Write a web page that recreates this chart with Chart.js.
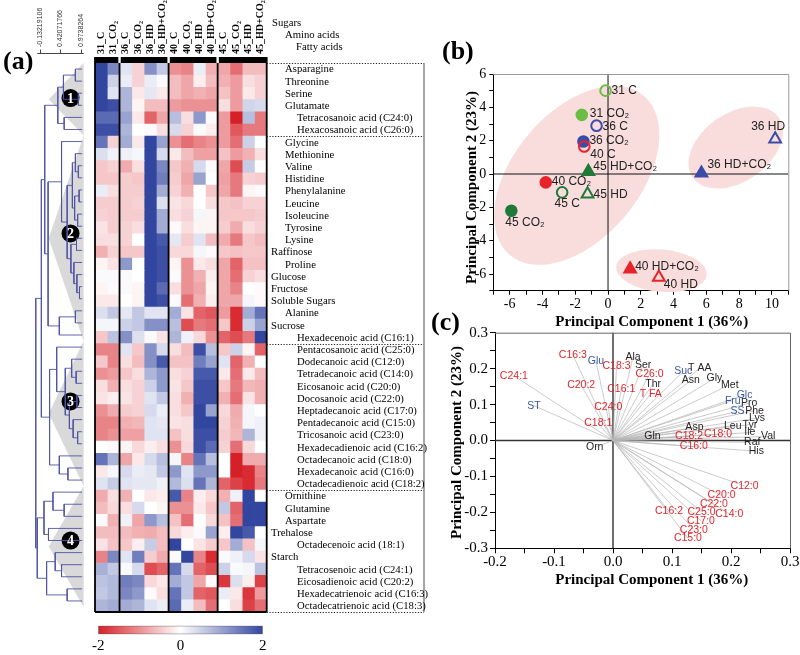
<!DOCTYPE html>
<html>
<head>
<meta charset="utf-8">
<title>Heatmap and PCA of metabolites</title>
<script src="https://cdn.jsdelivr.net/npm/chart.js@4.4.1/dist/chart.umd.min.js"></script>
<style>
  html, body { margin: 0; padding: 0; background: #fff; }
  #page { position: relative; width: 800px; height: 655px; overflow: hidden; }
  #page canvas { position: absolute; }
</style>
</head>
<body>
<div id="page">
  <canvas id="dendroChart" width="95" height="616" style="left:0;top:0;width:95px;height:616px"></canvas>
  <canvas id="heatChart" width="342" height="616" style="left:88px;top:0;width:342px;height:616px"></canvas>
  <canvas id="scaleChart" width="200" height="40" style="left:80px;top:615px;width:200px;height:40px"></canvas>
  <canvas id="scoreChart" width="360" height="305" style="left:440px;top:30px;width:360px;height:305px"></canvas>
  <canvas id="loadingChart" width="372" height="290" style="left:428px;top:305px;width:372px;height:290px"></canvas>
</div>
<script>
// ---- heatmap data ----
const columnNames = ['31_C', '31_CO₂', '36_C', '36_CO₂', '36_HD', '36_HD+CO₂', '40_C', '40_CO₂', '40_HD', '40_HD+CO₂', '45_C', '45_CO₂', '45_HD', '45_HD+CO₂'];
const columnGroupEdges = [0, 2, 6, 10, 14];

const cluster1Names = ['Asparagine', 'Threonine', 'Serine', 'Glutamate', 'Tetracosanoic acid (C24:0)', 'Hexacosanoic acid (C26:0)'];
const cluster1Kinds = ['A', 'A', 'A', 'A', 'F', 'F'];
const cluster1Values = [
  [2, 1.3, 0.3, -0.4, 1.2, 0.6, -1.0, -1.1, 0.2, -0.7, -0.8, -1.3, -0.6, -0.6],
  [2, 0.5, 0.2, -0.4, 0.2, 0.05, -0.6, -0.8, -0.15, -0.6, -0.7, -0.9, -0.3, -0.4],
  [2, 0.3, 0.8, -0.2, 0.25, -0.2, -0.6, -0.8, -0.7, -0.8, -0.55, -0.9, -0.2, -0.4],
  [2, 1.9, 0.8, -0.1, -0.6, -0.6, -0.9, -1.0, -1.0, -1.0, -0.3, -0.9, 0.45, 0.4],
  [1.6, 1.6, 1.0, -0.2, -1.4, -0.8, 0.7, -0.3, 1.1, -0.05, -0.9, -2.0, 0.7, -1.2],
  [1.9, 1.9, 0.8, 0, -0.05, -0.3, 0.4, -0.4, 0.05, -0.15, -0.9, -1.5, -1.2, -1.2]
];

const cluster2Names = ['Glycine', 'Methionine', 'Valine', 'Histidine', 'Phenylalanine', 'Leucine', 'Isoleucine', 'Tyrosine', 'Lysine', 'Raffinose', 'Proline', 'Glucose', 'Fructose', 'Soluble Sugars', 'Alanine', 'Sucrose', 'Hexadecenoic acid (C16:1)'];
const cluster2Kinds = ['A', 'A', 'A', 'A', 'A', 'A', 'A', 'A', 'A', 'S', 'A', 'S', 'S', 'S', 'A', 'S', 'F'];
const cluster2Values = [
  [1.5, -0.4, 0.9, -0.2, 2, 1.0, -1.0, -1.3, -1.1, -1.0, -0.9, -1.3, 0.5, 0],
  [0.35, 0.15, 0.15, 0.1, 2, 0.4, -0.2, -0.6, -0.85, -0.85, -0.55, -0.9, -0.7, -0.3],
  [-0.5, -0.4, -0.75, -0.3, 2, 1.3, -0.5, -0.7, 0.4, 0.05, -0.8, -1.6, 0.55, 0],
  [-0.5, -0.5, -0.45, -0.5, 2, 1.4, -0.45, -0.8, 1.0, 0, -0.85, -1.2, -0.4, -0.45],
  [0.2, -0.3, -0.45, -0.45, 2, 0.9, -0.4, -0.7, 0, -0.5, -0.8, -1.2, -0.1, -0.05],
  [-0.45, -0.45, -0.45, -0.4, 2, 0.35, -0.25, -0.35, 0, -0.3, -0.5, -0.55, -0.4, -0.4],
  [-0.4, -0.45, -0.45, -0.45, 2, 0.9, -0.3, -0.4, 0.1, -0.1, -0.5, -0.5, -0.5, -0.45],
  [-0.25, -0.45, -0.4, -0.3, 2, 0.9, -0.05, -0.3, -0.1, -0.1, -0.45, -0.75, -0.3, -0.4],
  [-0.3, -0.3, -0.4, 0, 2, 1.8, 0.25, -0.45, 0.3, -0.6, -0.75, -1.2, -0.5, -0.6],
  [-0.7, -0.4, -0.5, -0.5, 2, 1.9, -0.35, -0.35, 0.1, -0.05, -0.5, -0.55, -0.5, -0.5],
  [-0.1, -0.25, 1.1, 0, 2, 1.9, -0.1, -1.0, -0.2, -0.3, -0.8, -1.4, -0.55, -0.55],
  [0.05, 0.05, 0.05, 0, 2, 1.9, 0.05, -1.0, -0.7, -0.15, -0.8, -1.3, -0.4, -0.3],
  [-0.1, -0.05, 0.05, -0.1, 2, 1.6, -0.3, -1.0, -0.8, -0.1, -0.8, -1.1, 0, -0.05],
  [-0.2, -0.2, 0, -0.1, 2, 1.9, 0.05, -1.3, -0.7, -0.15, -0.8, -0.8, 0.1, -0.05],
  [0.35, 0.6, 0.25, 0.6, 0.3, 0.3, 0.9, -0.25, -1.4, -1.5, -0.9, -1.9, 0.9, 1.5],
  [0.1, 0.1, 0.5, 0.6, 1.2, 1.2, 0.7, -1.6, -1.2, -1.3, -0.5, -1.9, 0.5, 1.0],
  [-0.5, 0.65, 1.2, 0.35, 0.05, -0.25, 0.8, 0.15, -0.35, -1.0, -1.4, -1.6, -1.2, 2]
];

const cluster3Names = ['Pentacosanoic acid (C25:0)', 'Dodecanoic acid (C12:0)', 'Tetradecanoic acid (C14:0)', 'Eicosanoic acid (C20:0)', 'Docosanoic acid (C22:0)', 'Heptadecanoic acid (C17:0)', 'Pentadecanoic acid (C15:0)', 'Tricosanoic acid (C23:0)', 'Hexadecadienoic acid (C16:2)', 'Octadecanoic acid (C18:0)', 'Hexadecanoic acid (C16:0)', 'Octadecadienoic acid (C18:2)'];
const cluster3Kinds = ['F', 'F', 'F', 'F', 'F', 'F', 'F', 'F', 'F', 'F', 'F', 'F'];
const cluster3Values = [
  [-1.1, -1.1, 0.3, -0.5, 1.2, 0.4, -0.3, -0.6, 1.9, 0.7, -0.5, 0.5, -0.1, -1.4],
  [-0.5, -1.1, -0.3, -0.6, 1.2, 1.8, -0.55, -0.55, 1.4, 1.0, 0.3, -1.4, -0.7, 0],
  [-1.0, -0.9, -0.5, -0.3, 0.8, 1.1, -0.3, -0.4, 1.8, 1.8, -0.2, -1.3, -0.2, -0.6],
  [-0.3, -0.7, -0.3, -0.4, 0.5, 1.1, -0.25, -0.5, 1.9, 1.9, -0.5, -1.2, -0.65, -0.7],
  [-0.25, -0.15, -0.25, -0.4, 0.3, 0.6, -0.3, -0.7, 1.9, 1.9, -0.7, -1.3, -0.25, -0.7],
  [-1.0, -0.75, -0.45, -0.4, 0.4, 0.2, -0.3, -0.5, 2, 1.0, -0.35, -0.75, 0.1, 0],
  [-1.1, -1.1, -0.7, -0.65, 0.3, 0.25, -0.25, -0.3, 2, 2, -0.4, -0.7, 0.1, 0.15],
  [-1.1, -1.0, -0.85, -0.85, 0.3, 0.3, -0.55, -0.3, 1.9, 1.9, -0.45, -0.65, 0.8, 0.15],
  [0, -0.05, -0.1, -0.35, -0.15, -0.3, -1.0, -0.35, 1.9, 1.6, -0.4, -1.3, -0.35, 0],
  [1.5, 0.8, -0.8, -0.2, 0.4, 0.7, 0.1, -1.1, 1.5, 0.7, 0, -2.0, -0.75, -0.75],
  [-0.2, 0.1, 0.4, 0.2, 0.25, 0.6, 1.1, 0.3, 1.1, 1.1, 0, -2.0, -1.9, -1.1],
  [0.3, 0.55, 0.3, 0.25, 0.25, 0.15, 0.75, 0.35, 1.5, 0.8, -1.4, -1.7, -1.9, -1.2]
];

const cluster4Names = ['Ornithine', 'Glutamine', 'Aspartate', 'Trehalose', 'Octadecenoic acid (18:1)', 'Starch', 'Tetracosenoic acid (C24:1)', 'Eicosadienoic acid (C20:2)', 'Hexadecatrienoic acid (C16:3)', 'Octadecatrienoic acid (C18:3)'];
const cluster4Kinds = ['A', 'A', 'A', 'S', 'F', 'S', 'F', 'F', 'F', 'F'];
const cluster4Values = [
  [-0.75, -0.3, -0.7, 0, -0.2, -0.15, 1.8, -1.1, -0.15, -0.35, -0.7, 0.15, 2, 0],
  [-0.6, -0.35, -0.3, 0.4, 0, -0.1, -1.0, -1.0, -0.2, -0.5, 0.6, -1.4, 2, 2],
  [0.05, -0.7, 0.15, -0.8, 1.1, 0.7, -0.55, -1.3, 0, -0.35, -0.55, -1.3, 2, 2],
  [-0.6, -0.6, -0.6, -0.7, -0.75, -0.6, -0.35, -0.15, 0.05, 1.0, -0.15, 2, 1.8, 0],
  [-0.25, -0.55, -0.5, -0.15, 0.55, -0.6, 2, 0, -0.25, -0.45, -0.5, 0.9, -0.55, 0.1],
  [-1.1, 1.3, 0.3, 1.4, -0.45, -0.75, 0.05, 2, -1.1, -1.9, 0.05, 0.15, 0.4, -0.25],
  [0.85, 0.6, 0.05, 0.4, -1.6, -1.4, 1.5, 0.4, -1.4, -1.6, 0.5, 0.05, 0.1, 0.65],
  [0.65, 0.75, 1.4, 1.3, -0.35, -0.2, 0.9, 0.6, -0.8, -0.05, -1.8, 0.35, -0.15, -1.7],
  [0.6, 0.75, 1.3, 1.1, -0.05, -0.3, 1.5, 0.6, -1.4, -1.5, 0.2, -0.2, -1.8, -0.9],
  [0.8, 0.9, 0.9, 0.8, 0.3, 0.2, 1.6, 0.2, -0.6, -1.3, 0, -0.3, -1.7, -1.3]
];

// row dendrogram: [similarity, left, right], leaves are row indexes
const dendroCluster1 = [0.35, [0.5, [0.82, 0, 1], [0.9, 2, 3]], [0.52, 4, 5]];
const dendroCluster2 = [0.09,
  [0.45, 6, [0.6, [0.74, [0.82, 7, [0.9, 8, 9]], [0.8, [0.92, 10, 11], [0.88, 12, 13]]],
                  [0.7, [0.85, 14, 15], [0.78, 16, [0.86, 17, [0.93, 18, 19]]]]]],
  [0.39, [0.82, 20, 21], 22]];
const dendroCluster3 = [0.13,
  [0.32, 23, [0.55, [0.72, 24, [0.84, 25, 26]], [0.66, [0.86, 27, 28], [0.76, 29, [0.88, 30, 31]]]]],
  [0.39, 32, [0.62, 33, 34]]];
const dendroCluster4 = [-0.2,
  [-0.02, [0.22, 35, [0.52, 36, 37]], [0.1, 38, 39]],
  [0.05, [0.28, 40, [0.45, 41, 42]], [0.6, 43, 44]]];
const dendroTree = [-0.24, [-0.09, [0.0, dendroCluster1, dendroCluster2], dendroCluster3], dendroCluster4];
const dendroScaleTicks = [-0.13219106, 0.42071766, 0.9738264];
const clusterBounds = [-0.5, 5.5, 22.5, 34.5, 44.5];
const clusterBadgeRows = [2.4, 13.6, 27.5, 39.0];

const colorbarTicks = [-2, 0, 2];

// ---- PCA scores ----
const scoreLabels = ['31 C', '31 CO₂', '36 C', '36 CO₂', '36 HD', '36 HD+CO₂', '40 C', '40 CO₂', '40 HD', '40 HD+CO₂', '45 C', '45 CO₂', '45 HD', '45 HD+CO₂'];
const scoreTemp = ['31', '31', '36', '36', '36', '36', '40', '40', '40', '40', '45', '45', '45', '45'];
const scoreTreatment = ['C', 'CO2', 'C', 'CO2', 'HD', 'HD+CO2', 'C', 'CO2', 'HD', 'HD+CO2', 'C', 'CO2', 'HD', 'HD+CO2'];
const scorePC1 = [-0.15, -1.6, -0.7, -1.5, 10.2, 5.7, -1.45, -3.8, 3.1, 1.35, -2.8, -5.9, -1.25, -1.2];
const scorePC2 = [5.0, 3.55, 2.9, 1.95, 2.1, 0.05, 1.65, -0.5, -6.2, -5.7, -1.1, -2.2, -1.2, 0.15];
const scoreXTicks = [-7, -6, -5, -4, -3, -2, -1, 0, 1, 2, 3, 4, 5, 6, 7, 8, 9, 10, 11];
const scoreYTicks = [-7, -6, -5, -4, -3, -2, -1, 0, 1, 2, 3, 4, 5, 6];

// ---- PCA loadings ----
const loadLabels = ['C24:1', 'C16:3', 'Glu', 'C18:3', 'Ala', 'Ser', 'C26:0', 'Thr', 'C16:1', 'T FA', 'C20:2', 'C24:0', 'ST', 'C18:1', 'Orn', 'Gln', 'Suc', 'T AA', 'Asn', 'Gly', 'Met', 'Glc', 'Fru', 'Pro', 'SS', 'Phe', 'Lys', 'Tyr', 'Leu', 'Asp', 'Ile', 'C18:2', 'C18:0', 'Val', 'Raf', 'His', 'C16:0', 'C12:0', 'C20:0', 'C22:0', 'C14:0', 'C25:0', 'C16:2', 'C17:0', 'C23:0', 'C15:0'];
const loadPC1 = [-0.168, -0.068, -0.029, 0.006, 0.034, 0.051, 0.062, 0.068, 0.014, 0.064, -0.054, -0.008, -0.134, -0.025, -0.031, 0.067, 0.119, 0.147, 0.132, 0.172, 0.198, 0.223, 0.203, 0.231, 0.211, 0.240, 0.244, 0.232, 0.203, 0.138, 0.232, 0.129, 0.178, 0.263, 0.236, 0.243, 0.137, 0.223, 0.184, 0.171, 0.197, 0.150, 0.095, 0.149, 0.137, 0.127];
const loadPC2 = [0.180, 0.238, 0.221, 0.206, 0.233, 0.210, 0.184, 0.157, 0.143, 0.130, 0.154, 0.094, 0.097, 0.048, -0.019, 0.011, 0.192, 0.201, 0.167, 0.173, 0.155, 0.127, 0.111, 0.104, 0.081, 0.083, 0.062, 0.044, 0.041, 0.036, 0.022, 0.011, 0.018, 0.011, -0.005, -0.030, -0.017, -0.126, -0.153, -0.177, -0.204, -0.198, -0.197, -0.223, -0.248, -0.272];
const loadColorKey = ['r', 'r', 'b', 'r', 'k', 'k', 'r', 'k', 'r', 'r', 'r', 'r', 'b', 'r', 'k', 'k', 'b', 'k', 'k', 'k', 'k', 'b', 'b', 'k', 'b', 'k', 'k', 'k', 'k', 'k', 'k', 'r', 'r', 'k', 'k', 'k', 'r', 'r', 'r', 'r', 'r', 'r', 'r', 'r', 'r', 'r'];
const loadXTicks = [-0.2, -0.15, -0.1, -0.05, 0, 0.05, 0.1, 0.15, 0.2, 0.25, 0.3];
const loadYTicks = [-0.3, -0.25, -0.2, -0.15, -0.1, -0.05, 0, 0.05, 0.1, 0.15, 0.2, 0.25, 0.3];

// ---- styles ----
const SERIF = '"Liberation Serif", "Times New Roman", serif';
const SANS = '"Liberation Sans", Arial, sans-serif';
Chart.defaults.font.family = SERIF;
Chart.defaults.color = '#000';

const heatColor = v => {
  const t = Math.max(-1, Math.min(1, v / 2));
  const end = t < 0 ? [214, 32, 39] : [50, 70, 160];
  const a = Math.abs(t);
  const mix = i => Math.round(255 + (end[i] - 255) * a);
  return 'rgb(' + mix(0) + ',' + mix(1) + ',' + mix(2) + ')';
};
const tempColor = { '31': '#6abd45', '36': '#3a4ca8', '40': '#e8232a', '45': '#1f7a37' };
const loadColor = { r: '#e3242b', b: '#3a55a6', k: '#231f20' };
const kindIndent = { S: 271, A: 285, F: 297 };

// label offsets for the score plot: [dx, dy, align]
const scoreLabelPos = [[6, 0, 'left'], [8, -1, 'left'], [6, 1, 'left'], [6, -1, 'left'], [-7, -12, 'center'], [6, -8, 'left'],
  [6, 8, 'left'], [6, -1, 'left'], [5, 7, 'left'], [5, -2, 'left'], [5, 11, 'center'], [-6, 12, 'left'], [6, 1, 'left'], [5, -5, 'left']];
const scoreEllipses = [
  { cx: -1.91, cy: -0.08, rx: 6.35, ry: 3.8, rot: 50 },
  { cx: 7.79, cy: 1.59, rx: 3.2, ry: 2.05, rot: 35 },
  { cx: 3.26, cy: -5.8, rx: 2.78, ry: 1.27, rot: -5 }
];

const heatRows = [...cluster1Values, ...cluster2Values, ...cluster3Values, ...cluster4Values];
const rowNames = [...cluster1Names, ...cluster2Names, ...cluster3Names, ...cluster4Names];
const rowKinds = [...cluster1Kinds, ...cluster2Kinds, ...cluster3Kinds, ...cluster4Kinds];

const baseOptions = {
  responsive: false,
  animation: false,
  devicePixelRatio: 1,
  events: [],
  plugins: { legend: { display: false }, tooltip: { enabled: false } }
};

function pageText(chart, text, px, py, font, color, align, rotate) {
  const ctx = chart.ctx;
  const ox = chart.canvas.offsetLeft, oy = chart.canvas.offsetTop;
  ctx.save();
  ctx.font = font;
  ctx.fillStyle = color || '#000';
  ctx.textAlign = align || 'center';
  ctx.textBaseline = 'middle';
  ctx.translate(px - ox, py - oy);
  if (rotate) ctx.rotate(rotate);
  ctx.fillText(text, 0, 0);
  ctx.restore();
}

// ---- dendrogram ----
const dendroSegments = [];
function layoutNode(node) {
  if (typeof node === 'number') return { h: 1.0, y: node };
  const [h, a, b] = node;
  const A = layoutNode(a), B = layoutNode(b);
  dendroSegments.push({ x: h, y: A.y }, { x: h, y: B.y }, { x: null, y: null });
  dendroSegments.push({ x: h, y: A.y }, { x: A.h, y: A.y }, { x: null, y: null });
  dendroSegments.push({ x: h, y: B.y }, { x: B.h, y: B.y }, { x: null, y: null });
  return { h, y: (A.y + B.y) / 2 };
}
layoutNode(dendroTree);

const dendroDecor = {
  id: 'dendroDecor',
  beforeDatasetsDraw(chart) {
    const { ctx, scales: { x, y } } = chart;
    ctx.save();
    ctx.fillStyle = '#d9d9d9';
    for (let i = 0; i < 4; i++) {
      const t = clusterBounds[i], b = clusterBounds[i + 1];
      ctx.beginPath();
      ctx.moveTo(x.getPixelForValue(0.107), y.getPixelForValue((t + b) / 2));
      ctx.lineTo(x.getPixelForValue(1.04), y.getPixelForValue(t));
      ctx.lineTo(x.getPixelForValue(1.04), y.getPixelForValue(b));
      ctx.closePath();
      ctx.fill();
    }
    ctx.restore();
  },
  afterDatasetsDraw(chart) {
    const { ctx, scales: { x, y } } = chart;
    clusterBadgeRows.forEach((r, i) => {
      pageText(chart, String(i + 1), x.getPixelForValue(0.69), y.getPixelForValue(r) + 1, 'bold 14px ' + SERIF, '#fff');
    });
    ctx.save();
    ctx.strokeStyle = '#444';
    ctx.lineWidth = 1;
    ctx.beginPath();
    ctx.moveTo(x.getPixelForValue(-0.2), 53.5);
    ctx.lineTo(x.getPixelForValue(1.04), 53.5);
    dendroScaleTicks.forEach(v => {
      const px = Math.round(x.getPixelForValue(v)) + 0.5;
      ctx.moveTo(px, 53.5);
      ctx.lineTo(px, 49.5);
    });
    ctx.stroke();
    ctx.restore();
    dendroScaleTicks.forEach((v, i) => {
      pageText(chart, ['-0.13219106', '0.42071766', '0.9738264'][i], x.getPixelForValue(v), 47, '7px ' + SANS, '#333', 'left', -Math.PI / 2);
    });
    const c = chart.ctx;
    c.save();
    c.font = 'bold 26px ' + SERIF;
    c.fillStyle = '#000';
    c.textBaseline = 'alphabetic';
    c.fillText('(a)', 3, 69);
    c.restore();
  }
};

new Chart(document.getElementById('dendroChart'), {
  type: 'scatter',
  data: {
    datasets: [{
      data: dendroSegments,
      showLine: true,
      spanGaps: false,
      borderColor: 'rgba(80,84,165,0.9)',
      borderWidth: 1,
      pointRadius: 0
    }, {
      data: clusterBadgeRows.map(r => ({ x: 0.69, y: r })),
      pointRadius: 9,
      backgroundColor: '#000',
      borderWidth: 0
    }]
  },
  options: {
    ...baseOptions,
    layout: { padding: { top: 63, bottom: 4, left: 0, right: 0 } },
    scales: {
      x: { type: 'linear', display: false, min: -0.956, max: 1.104 },
      y: { type: 'linear', display: false, min: -0.5, max: 44.5, reverse: true }
    }
  },
  plugins: [dendroDecor]
});

// ---- heatmap ----
const heatDecor = {
  id: 'heatDecor',
  afterDatasetsDraw(chart) {
    const { ctx, chartArea: area, scales: { x, y } } = chart;
    const ox = chart.canvas.offsetLeft;
    const edge = k => y.getPixelForValue(k - 0.5);
    ctx.save();
    ctx.strokeStyle = '#000';
    ctx.lineWidth = 1.8;
    ctx.beginPath();
    columnGroupEdges.forEach(g => {
      const px = x.getPixelForValue(g);
      ctx.moveTo(px, area.top);
      ctx.lineTo(px, area.bottom);
    });
    ctx.moveTo(area.left, area.bottom);
    ctx.lineTo(area.right, area.bottom);
    ctx.stroke();
    ctx.fillStyle = '#000';
    for (let g = 0; g < columnGroupEdges.length - 1; g++) {
      const x0 = x.getPixelForValue(columnGroupEdges[g]) + (g > 0 ? 1.2 : -0.9);
      const x1 = x.getPixelForValue(columnGroupEdges[g + 1]) - (g < 3 ? 1.2 : -0.9);
      ctx.fillRect(x0, 57, x1 - x0, 6);
    }
    ctx.strokeStyle = '#222';
    ctx.lineWidth = 1.2;
    ctx.setLineDash([1.2, 1.6]);
    ctx.beginPath();
    [0, 6, 23, 35, 45].forEach(k => {
      const py = Math.round(edge(k)) + 0.5;
      ctx.moveTo(area.right, py);
      ctx.lineTo(424 - ox, py);
    });
    ctx.stroke();
    ctx.setLineDash([]);
    ctx.strokeStyle = '#8a8a8a';
    ctx.lineWidth = 1.5;
    ctx.beginPath();
    ctx.moveTo(424 - ox, edge(0));
    ctx.lineTo(424 - ox, edge(45));
    ctx.stroke();
    ctx.restore();

    rowNames.forEach((name, k) => {
      pageText(chart, name, kindIndent[rowKinds[k]], y.getPixelForValue(k) + 0.5, '10.7px ' + SERIF, '#000', 'left');
    });
    columnNames.forEach((name, j) => {
      pageText(chart, name, ox + x.getPixelForValue(j + 0.5), 54, 'bold 10px ' + SERIF, '#000', 'left', -Math.PI / 2);
    });
    pageText(chart, 'Sugars', 272, 23, '10.7px ' + SERIF, '#000', 'left');
    pageText(chart, 'Amino acids', 285, 35, '10.7px ' + SERIF, '#000', 'left');
    pageText(chart, 'Fatty acids', 296, 47, '10.7px ' + SERIF, '#000', 'left');
  }
};

new Chart(document.getElementById('heatChart'), {
  type: 'bar',
  data: {
    labels: rowNames,
    datasets: columnNames.map((name, j) => ({
      label: name,
      data: heatRows.map(() => [j, j + 1]),
      backgroundColor: heatRows.map(r => heatColor(r[j])),
      borderWidth: 0,
      barPercentage: 1,
      categoryPercentage: 1,
      grouped: false
    }))
  },
  options: {
    ...baseOptions,
    indexAxis: 'y',
    layout: { padding: { left: 7, right: 163.3, top: 63, bottom: 4 } },
    scales: {
      x: { type: 'linear', display: false, min: 0, max: 14 },
      y: { display: false }
    }
  },
  plugins: [heatDecor]
});

// ---- colour scale ----
new Chart(document.getElementById('scaleChart'), {
  type: 'bar',
  data: {
    labels: ['z'],
    datasets: [{
      data: [[colorbarTicks[0], colorbarTicks[2]]],
      backgroundColor(context) {
        const { chart } = context;
        const xs = chart.scales.x;
        if (!chart.chartArea || !xs) return '#fff';
        const g = chart.ctx.createLinearGradient(xs.getPixelForValue(-2), 0, xs.getPixelForValue(2), 0);
        [-2, -1, 0, 1, 2].forEach(v => g.addColorStop((v + 2) / 4, heatColor(v)));
        return g;
      },
      borderColor: '#555',
      borderWidth: 1,
      borderSkipped: false,
      barPercentage: 1,
      categoryPercentage: 1
    }]
  },
  options: {
    ...baseOptions,
    indexAxis: 'y',
    layout: { padding: { left: 18.3, right: 17.3, top: 10.7, bottom: 0 } },
    scales: {
      x: {
        type: 'linear', min: -2, max: 2,
        afterBuildTicks: s => { s.ticks = colorbarTicks.map(v => ({ value: v })); },
        afterFit: s => { s.height = 20.7; },
        grid: { display: false, drawTicks: false },
        border: { display: false },
        ticks: { padding: 3, font: { size: 15 }, color: '#000', callback: v => String(v) }
      },
      y: { display: false }
    }
  }
});

// ---- score plot ----
const frameAndTitles = (opts) => ({
  id: 'frame_' + opts.name,
  beforeDatasetsDraw(chart) {
    const { ctx, chartArea: a, scales: { x, y } } = chart;
    if (opts.ellipses) {
      ctx.save();
      ctx.fillStyle = '#f9dddd';
      opts.ellipses.forEach(e => {
        const kx = Math.abs(x.getPixelForValue(1) - x.getPixelForValue(0));
        const ky = Math.abs(y.getPixelForValue(1) - y.getPixelForValue(0));
        ctx.beginPath();
        ctx.ellipse(x.getPixelForValue(e.cx), y.getPixelForValue(e.cy), e.rx * kx, e.ry * ky, -e.rot * Math.PI / 180, 0, Math.PI * 2);
        ctx.fill();
      });
      ctx.restore();
    }
    ctx.save();
    ctx.strokeStyle = opts.zeroColor;
    ctx.lineWidth = opts.zeroWidth;
    ctx.beginPath();
    const x0 = x.getPixelForValue(0), y0 = y.getPixelForValue(0);
    ctx.moveTo(x0, a.top); ctx.lineTo(x0, a.bottom);
    ctx.moveTo(a.left, y0); ctx.lineTo(a.right, y0);
    ctx.stroke();
    ctx.strokeStyle = opts.frameColor;
    ctx.lineWidth = 1;
    ctx.beginPath();
    ctx.moveTo(a.left, a.top + 0.5); ctx.lineTo(a.right + 0.5, a.top + 0.5);
    ctx.lineTo(a.right + 0.5, a.bottom);
    ctx.stroke();
    ctx.restore();
  },
  afterDraw(chart) {
    pageText(chart, 'Principal Component 1 (36%)', 651.7, opts.xTitleY, 'bold 15px ' + SERIF, '#000', 'center');
    pageText(chart, 'Principal Component 2 (23%)', opts.yTitleX, opts.yTitleY, 'bold 15px ' + SERIF, '#000', 'center', -Math.PI / 2);
    pageText(chart, opts.panel, opts.panelX, opts.panelY, 'bold 26px ' + SERIF, '#000', 'left');
  }
});

const tickAxis = (min, max, values, labelFn, size, fit, tickLen, pad) => ({
  type: 'linear', min, max,
  afterBuildTicks: s => { s.ticks = values.map(v => ({ value: v })); },
  afterFit: fit,
  grid: { drawOnChartArea: false, drawTicks: true, tickLength: tickLen, color: '#000' },
  border: { color: '#000', width: 1 },
  ticks: { autoSkip: false, maxRotation: 0, padding: pad, font: { size }, color: '#000', callback: labelFn }
});

const scoreLabelPlugin = {
  id: 'scoreLabels',
  afterDatasetsDraw(chart) {
    const { ctx, scales: { x, y } } = chart;
    ctx.save();
    ctx.font = '12px ' + SANS;
    ctx.fillStyle = '#222';
    ctx.textBaseline = 'middle';
    scoreLabels.forEach((t, i) => {
      const [dx, dy, al] = scoreLabelPos[i];
      ctx.textAlign = al;
      ctx.fillText(t, x.getPixelForValue(scorePC1[i]) + dx, y.getPixelForValue(scorePC2[i]) + dy);
    });
    ctx.restore();
  }
};

new Chart(document.getElementById('scoreChart'), {
  type: 'scatter',
  data: {
    datasets: [{
      data: scorePC1.map((v, i) => ({ x: v, y: scorePC2[i] })),
      pointStyle: scoreTreatment.map(t => t.startsWith('HD') ? 'triangle' : 'circle'),
      pointRadius: scoreTreatment.map(t => t.startsWith('HD') ? 6.8 : 5.3),
      pointBorderWidth: 2,
      pointBorderColor: scoreTemp.map(t => tempColor[t]),
      pointBackgroundColor: scoreTreatment.map((t, i) => t.includes('CO2') ? tempColor[scoreTemp[i]] : 'rgba(255,255,255,0)')
    }]
  },
  options: {
    ...baseOptions,
    layout: { padding: { left: 0, top: 44, right: 11.7, bottom: 0 } },
    scales: {
      x: tickAxis(-7, 11, scoreXTicks, v => (v % 2 === 0 ? String(v) : ''), 14, s => { s.height = 44.3; }, 4, 1),
      y: tickAxis(-7, 6, scoreYTicks, v => (v % 2 === 0 ? String(v) : ''), 14, s => { s.width = 53.3; }, 4, 3)
    }
  },
  plugins: [frameAndTitles({
    name: 'score', ellipses: scoreEllipses, zeroColor: '#111', zeroWidth: 1, frameColor: '#999',
    xTitleY: 321.7, yTitleX: 471.7, yTitleY: 187.5, panel: '(b)', panelX: 442, panelY: 52
  }), scoreLabelPlugin]
});

// ---- loading plot ----
const majorLabel = v => {
  const r = Math.round(v * 10);
  return Math.abs(v * 10 - r) < 1e-6 ? (r / 10).toFixed(1) : '';
};

const loadLabelPlugin = {
  id: 'loadLabels',
  afterDatasetsDraw(chart) {
    const { ctx, scales: { x, y } } = chart;
    ctx.save();
    ctx.font = '10.5px ' + SANS;
    ctx.textAlign = 'center';
    ctx.textBaseline = 'middle';
    loadLabels.forEach((t, i) => {
      ctx.fillStyle = loadColor[loadColorKey[i]];
      ctx.fillText(t, x.getPixelForValue(loadPC1[i]), y.getPixelForValue(loadPC2[i]));
    });
    ctx.restore();
  }
};

const loadRays = [];
loadPC1.forEach((v, i) => {
  loadRays.push({ x: 0, y: 0 }, { x: v, y: loadPC2[i] }, { x: null, y: null });
});

new Chart(document.getElementById('loadingChart'), {
  type: 'scatter',
  data: {
    datasets: [{
      data: loadRays,
      showLine: true,
      spanGaps: false,
      borderColor: '#b5b5b5',
      borderWidth: 0.7,
      pointRadius: 0
    }]
  },
  options: {
    ...baseOptions,
    layout: { padding: { left: 0, top: 27.7, right: 10, bottom: 0 } },
    scales: {
      x: tickAxis(-0.2, 0.3, loadXTicks, majorLabel, 15, s => { s.height = 46.7; }, 5, 0),
      y: tickAxis(-0.3, 0.3, loadYTicks, majorLabel, 15, s => { s.width = 67; }, 5, 2)
    }
  },
  plugins: [frameAndTitles({
    name: 'load', zeroColor: '#333', zeroWidth: 1.4, frameColor: '#666',
    xTitleY: 580, yTitleX: 456.7, yTitleY: 442.5, panel: '(c)', panelX: 431, panelY: 323
  }), loadLabelPlugin]
});
</script>
</body>
</html>
